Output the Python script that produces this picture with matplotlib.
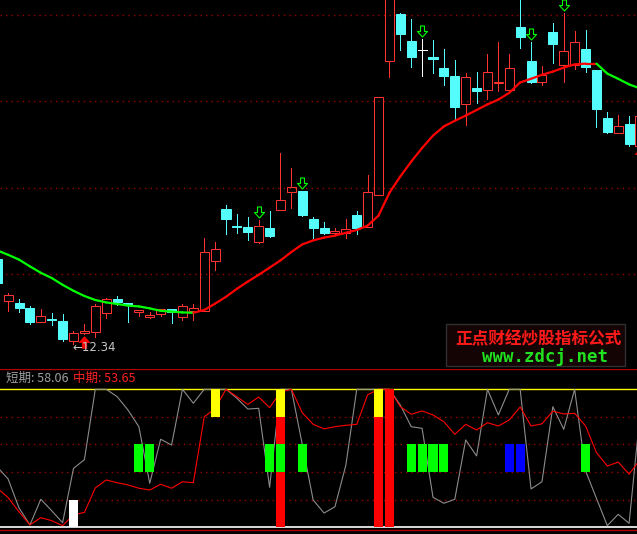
import numpy as np
import matplotlib
matplotlib.use('Agg')
import matplotlib.pyplot as plt
from matplotlib.patches import Rectangle
from matplotlib.collections import LineCollection
from matplotlib.path import Path
from matplotlib.transforms import offset_copy

plt.rcParams['font.family'] = ['Noto Sans CJK SC', 'DejaVu Sans']

# ---------------- data ----------------
opens = [14.47, 13.42, 13.37, 13.25, 12.90, 12.96, 12.92, 12.41, 12.61, 12.65,
         13.12, 13.47, 13.37, 13.14, 13.02, 13.10, 13.21, 13.02, 13.17, 13.17,
         14.42, 15.72, 15.29, 15.27, 14.89, 15.24, 15.69, 16.14, 16.17, 15.47,
         15.24, 15.11, 15.12, 15.57, 15.27, 16.07, 19.42, 20.59, 19.92, 19.68,
         19.52, 19.24, 19.04, 18.35, 18.74, 18.70, 18.86, 18.70, 20.26, 19.42,
         18.90, 20.14, 19.32, 19.32, 19.72, 19.19, 17.99, 17.62, 17.84, 17.29]
highs = [14.52, 13.62, 13.46, 13.29, 13.22, 13.12, 13.10, 12.67, 12.84, 13.34,
         13.50, 13.54, 13.37, 13.19, 13.14, 13.22, 13.22, 13.33, 13.33, 14.99,
         14.89, 15.82, 15.59, 15.52, 15.44, 15.67, 17.12, 16.74, 16.17, 15.52,
         15.39, 15.24, 15.47, 15.67, 16.57, 18.51, 21.32, 20.62, 20.47, 19.97,
         19.94, 19.72, 19.44, 19.12, 19.14, 19.59, 19.89, 19.59, 21.07, 19.89,
         19.29, 20.37, 20.62, 20.17, 20.19, 19.19, 18.14, 18.07, 18.04, 18.19]
lows = [13.82, 13.17, 13.15, 12.84, 12.90, 12.82, 12.42, 12.34, 12.59, 12.51,
        12.98, 13.32, 12.90, 13.04, 12.98, 13.04, 12.87, 12.94, 12.94, 13.16,
        14.19, 15.09, 15.12, 14.94, 14.87, 15.02, 15.69, 15.74, 15.54, 14.99,
        15.09, 15.05, 15.00, 15.09, 15.27, 16.06, 19.02, 19.69, 19.27, 19.04,
        19.12, 18.82, 17.94, 17.82, 18.37, 18.47, 18.67, 18.69, 19.75, 18.87,
        18.82, 19.37, 18.90, 19.22, 19.15, 17.77, 17.62, 17.62, 17.30, 17.27]
closes = [13.87, 13.57, 13.24, 12.89, 13.04, 12.93, 12.47, 12.62, 12.67, 13.29,
          13.46, 13.39, 13.31, 13.19, 13.07, 13.21, 13.14, 13.29, 13.23, 14.63,
          14.72, 15.47, 15.27, 15.14, 15.29, 15.04, 15.94, 16.27, 15.57, 15.24,
          15.12, 15.17, 15.21, 15.24, 16.13, 18.51, 21.14, 20.10, 19.52, 19.68,
          19.47, 19.04, 18.27, 19.02, 18.67, 19.14, 18.90, 19.23, 20.02, 18.90,
          19.07, 19.85, 19.67, 19.89, 19.27, 18.22, 17.65, 17.79, 17.34, 18.04]
ma_line = [14.68, 14.57, 14.45, 14.28, 14.12, 13.99, 13.82, 13.67, 13.54, 13.44,
           13.38, 13.34, 13.30, 13.28, 13.23, 13.17, 13.15, 13.13, 13.12, 13.19,
           13.35, 13.52, 13.72, 13.90, 14.07, 14.25, 14.43, 14.64, 14.83, 14.93,
           15.00, 15.05, 15.12, 15.19, 15.30, 15.55, 16.12, 16.53, 16.90, 17.24,
           17.55, 17.78, 17.92, 18.05, 18.19, 18.33, 18.45, 18.62, 18.88, 18.97,
           19.07, 19.15, 19.25, 19.33, 19.35, 19.35, 19.10, 18.97, 18.83, 18.73]

short_term = [43.7, 35, 14, 1.7, 20.3, 12, 3.3, 42.7, 49, 100,
              100, 94.7, 85, 72.9, 31.9, 63.8, 59.6, 100, 89.9, 100,
              100, 100, 93.5, 85.7, 86.2, 29, 100, 100, 60, 19.8,
              10.3, 14.9, 45, 100, 100, 100, 100, 88.6, 72.9, 71.7,
              21.7, 17.4, 20.3, 63.3, 51.7, 100, 81.4, 100, 100, 27.8,
              33, 87.4, 71, 100, 41, 21, 1.2, 9.4, 2.9, 82]
mid_term = [28.5, 21.5, 11.2, 1.7, 7, 4.8, 1.2, 9, 10.8, 28.5,
            34.3, 32.3, 30.7, 28.3, 27, 31.2, 28.3, 33, 32.3, 80,
            86, 100, 94.6, 89, 94.4, 86.7, 98, 100, 83, 74.6,
            71.3, 72.9, 73.9, 74.6, 96, 100, 100, 87.4, 81.9, 84.3,
            81.4, 76.5, 67.4, 74.6, 70.5, 75.8, 73.4, 77.8, 87.2, 73.4,
            75, 84.2, 82.1, 82.6, 73.5, 54.2, 44.4, 47.3, 38.5, 49]

sell_idx = [24, 28, 39, 49, 52]
buy_idx = [8, 59]
white_idx = [7]
red_idx = [26, 35, 36]
yellow_idx = [20, 26, 35]
green_idx = [13, 14, 25, 26, 28, 38, 39, 40, 41, 54]
blue_idx = [47, 48]
white_band = (0, 20)
red_band = (0, 100)
yellow_band = (80, 100)
mid_band = (40, 60)

short_label = '短期: 58.06'
mid_label = '中期: 53.65'
price_grid = [14.08, 16.23, 18.41, 20.56]
osc_grid = [20, 40, 60, 80]

# ---------------- figure ----------------
W, H = 637, 534
fig = plt.figure(figsize=(W / 100, H / 100), dpi=100, facecolor='black')
ax = fig.add_axes([0, 166 / H, 1, 368 / H])
ax2 = fig.add_axes([0, 0, 1, 165 / H])
for a in (ax, ax2):
    a.set_facecolor('black')
    a.set_axis_off()
    a.set_xlim(0.2534, 58.725)
ax.set_ylim(11.74, 20.94)
ax2.set_ylim(-4.86, 114.7)

RED = '#ff3232'
CYAN = '#54fcfc'
GRID = '#9a0000'
px = 0.72
bw = 0.83

for lv in price_grid:
    ax.axhline(lv, color=GRID, lw=1.0, ls=(0, (1, 3)), zorder=1)

# candles
for i, (o, h, l, c) in enumerate(zip(opens, highs, lows, closes)):
    if c > o:
        ax.add_patch(Rectangle((i - bw / 2, o), bw, c - o, fill=False,
                               edgecolor=RED, lw=px, zorder=3))
        ax.plot([i, i], [c, h], color=RED, lw=px, zorder=3)
        ax.plot([i, i], [l, o], color=RED, lw=px, zorder=3)
    elif c < o:
        ax.plot([i, i], [l, h], color=CYAN, lw=px, zorder=3)
        ax.add_patch(Rectangle((i - bw / 2, c), bw, o - c, facecolor=CYAN,
                               edgecolor=CYAN, lw=px, zorder=3))
    else:
        ax.plot([i, i], [l, h], color='white', lw=px, zorder=3)
        ax.plot([i - bw / 2, i + bw / 2], [c, c], color='white', lw=px, zorder=3)

# moving average, red when rising, green when falling
idx = np.arange(len(ma_line))
ma = np.array(ma_line)
segs = [[(idx[k - 1], ma[k - 1]), (idx[k], ma[k])] for k in range(1, len(ma))]
cols = ['#ff0000' if ma[k] >= ma[k - 1] else '#00ff00' for k in range(1, len(ma))]
ax.add_collection(LineCollection(segs, colors=cols, linewidths=1.6, zorder=4,
                                 capstyle='round'))

# signal arrows
down_v = [(-0.2, 0.55), (0.2, 0.55), (0.2, 0.0), (0.5, 0.0), (0.0, -0.55),
          (-0.5, 0.0), (-0.2, 0.0), (-0.2, 0.55)]
up_v = [(0.0, 0.55), (0.5, 0.0), (0.22, 0.0), (0.22, -0.55), (-0.22, -0.55),
        (-0.22, 0.0), (-0.5, 0.0), (0.0, 0.55)]
down_arrow = Path(down_v, closed=True)
up_arrow = Path(up_v, closed=True)
tr_up = offset_copy(ax.transData, fig=fig, x=0, y=8, units='dots')
tr_dn = offset_copy(ax.transData, fig=fig, x=0, y=-7.5, units='dots')
for i in sell_idx:
    ax.plot([i], [highs[i]], marker=down_arrow, ms=7.9, mfc='none', mec='#00ff00',
            mew=0.8, transform=tr_up, zorder=5, clip_on=False)
for i in buy_idx:
    ax.plot([i], [lows[i]], marker=up_arrow, ms=8.4, mfc='#ff0000', mec='#ff0000',
            mew=0.5, transform=tr_dn, zorder=5)

# lowest price label
jl = int(np.argmin(lows))
ax.text(jl - 0.05, lows[jl], '←' + f'{lows[jl]:.2f}', color='#c8c8c8', fontsize=8.5,
        family='DejaVu Sans', ha='left', va='center',
        transform=offset_copy(ax.transData, fig=fig, x=0, y=-3, units='dots'), zorder=6)

# ---------------- oscillator panel ----------------
for lv in osc_grid:
    ax2.axhline(lv, color=GRID, lw=1.0, ls=(0, (1, 3)), zorder=1)
ax2.axhline(100, color='#ffff00', lw=1.0, zorder=1.5)
ax2.axhline(0, color='white', lw=1.2, zorder=1.5)
ax2.axhline(-1.96, color='#b00000', lw=1.0, zorder=1.5)
ax2.axhline(114.35, color='#b00000', lw=1.0, zorder=1.5)

ax2.plot(idx, short_term, color='#8c8c8c', lw=0.8, zorder=2)
ax2.plot(idx, mid_term, color='#ff0000', lw=0.8, zorder=2)

def bars(ids, band, color, z):
    ax2.bar(ids, [band[1] - band[0]] * len(ids), bottom=band[0], width=bw,
            color=color, linewidth=0, zorder=z)

bars(white_idx, white_band, '#ffffff', 3)
bars(red_idx, red_band, '#ff0000', 3)
bars(yellow_idx, yellow_band, '#ffff00', 3.1)
bars(green_idx, mid_band, '#00ff00', 3.2)
bars(blue_idx, mid_band, '#0000ff', 3.2)

fig.text(6 / W, 1 - 378.5 / H, short_label, color='#a0a0a0', fontsize=9,
         ha='left', va='center')
fig.text(73 / W, 1 - 378.5 / H, mid_label, color='#ff2020', fontsize=9,
         ha='left', va='center')

# watermark box
fig.add_artist(Rectangle((446 / W, 1 - 366 / H), 179 / W, 42 / H,
                         transform=fig.transFigure, facecolor='#140404',
                         edgecolor='#303030', lw=1.0, zorder=10))
fig.text(538.5 / W, 1 - 339 / H, '正点财经炒股指标公式', color='#ff1a1a',
         fontsize=12, fontweight='bold', ha='center', va='center', zorder=11)
fig.text(544.5 / W, 1 - 362 / H, 'www.zdcj.net', color='#20e020',
         fontsize=12.5, family='DejaVu Sans Mono', fontweight='bold',
         ha='center', va='baseline', zorder=11)

fig.savefig('out.png', dpi=100, facecolor='black')
